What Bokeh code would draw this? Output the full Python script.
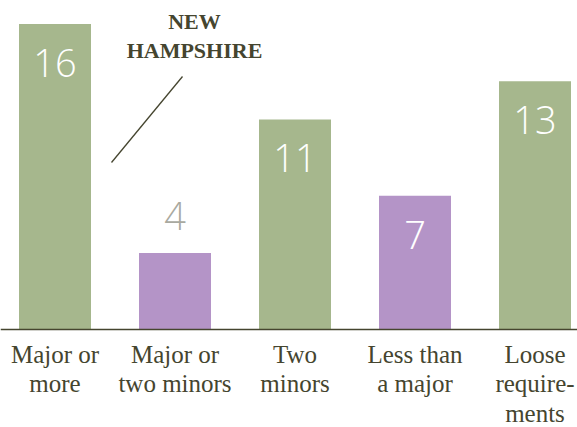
from bokeh.plotting import figure
from bokeh.models import Range1d, Span, ColumnDataSource
from bokeh.transform import factor_cmap
from bokeh.core.properties import value
from bokeh.embed import file_html
from bokeh.resources import INLINE

# ---- data ----
categories = ["Major or\nmore", "Major or\ntwo minors", "Two\nminors",
              "Less than\na major", "Loose\nrequire-\nments"]
counts = [16, 4, 11, 7, 13]
kinds = ["green", "purple", "green", "purple", "green"]
annotation_lines = ["NEW", "HAMPSHIRE"]

GREEN = "#a6b78d"
PURPLE = "#b494c7"
INK = "#45452f"

W, H = 577, 427
PX_PER_UNIT = 19.1
ZERO_PX = 329          # distance of zero line from top of frame
PX_PER_CAT = 120.0
FIRST_CENTER_PX = 54.5

x_start = -FIRST_CENTER_PX / PX_PER_CAT
x_end = x_start + W / PX_PER_CAT
y_end = ZERO_PX / PX_PER_UNIT
y_start = -(H - ZERO_PX) / PX_PER_UNIT

p = figure(width=W, height=H, output_backend="svg", toolbar_location=None,
           x_range=Range1d(x_start, x_end), y_range=Range1d(y_start, y_end),
           min_border=0, min_border_left=0, min_border_right=0,
           min_border_top=0, min_border_bottom=0)
p.axis.visible = False
p.grid.visible = False
p.outline_line_color = None
p.background_fill_color = "white"
p.border_fill_color = "white"

xs = list(range(len(counts)))
inside = [c >= 5 for c in counts]
src = ColumnDataSource(dict(
    x=xs, top=counts, kind=kinds, cat=categories,
    label=[str(c) for c in counts],
    label_color=["white" if i else "#a9a9a0" for i in inside],
    label_off=[39 if i else -37 for i in inside],
))

p.vbar(x="x", top="top", bottom=0, width=0.6, source=src, line_color=None,
       fill_color=factor_cmap("kind", palette=[GREEN, PURPLE], factors=["green", "purple"]))

p.add_layout(Span(location=0, dimension="width", line_color=INK, line_width=1.5))

# value labels
p.text(x="x", y="top", text="label", source=src, y_offset="label_off",
       text_color="label_color", text_align="center", text_baseline="alphabetic",
       text_font=value("Open Sans Light"), text_font_size="38px")

# category labels
p.text(x="x", y=0, text="cat", source=src, y_offset=11,
       text_color=INK, text_align="center", text_baseline="top",
       text_font=value("Liberation Serif"), text_font_size="25px",
       text_line_height=1.1)

# annotation
ann_x = x_start + 194 / PX_PER_CAT
ann_src = ColumnDataSource(dict(
    x=[ann_x, ann_x],
    y=[(ZERO_PX - 21) / PX_PER_UNIT, (ZERO_PX - 50) / PX_PER_UNIT],
    t=annotation_lines))
p.text(x="x", y="y", text="t", source=ann_src, text_color=INK,
       text_align="center", text_baseline="alphabetic",
       text_font=value("Liberation Serif"), text_font_style="bold",
       text_font_size="22px")
p.segment(x0=[x_start + 111 / PX_PER_CAT], y0=[(ZERO_PX - 162) / PX_PER_UNIT],
          x1=[x_start + 182 / PX_PER_CAT], y1=[(ZERO_PX - 76) / PX_PER_UNIT],
          line_color=INK, line_width=1.3)

open("out.html", "w").write(file_html(p, INLINE))
